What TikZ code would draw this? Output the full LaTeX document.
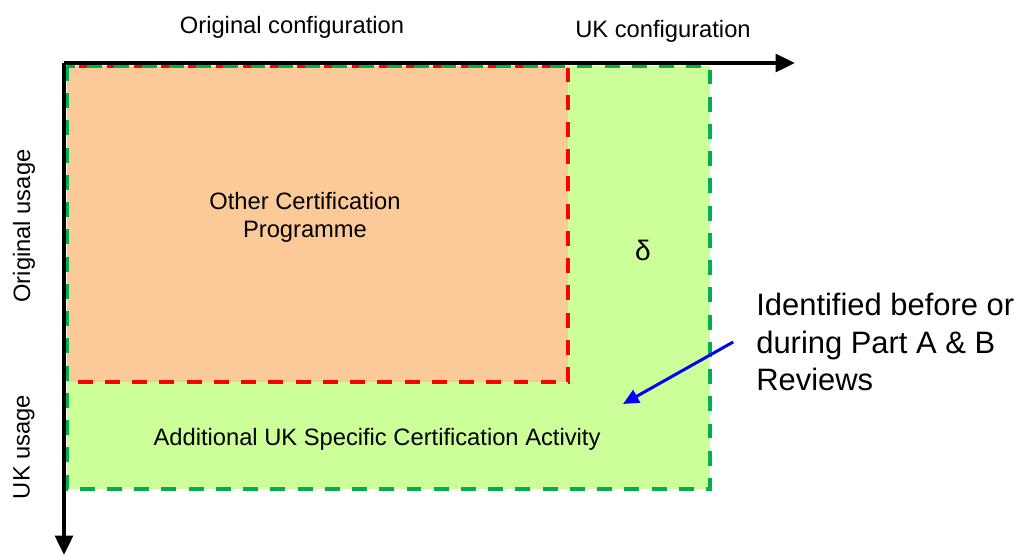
\documentclass[tikz,border=0pt]{standalone}
\usepackage{fontspec}
\setmainfont{Liberation Sans}
\usepackage{tikz}
\usetikzlibrary{arrows.meta, positioning}
\definecolor{ukgreen}{RGB}{204, 255, 153}
\definecolor{peach}{RGB}{252, 202, 152}
\definecolor{dashgreen}{RGB}{0, 176, 80}

\begin{document}
\begin{tikzpicture}[
    x=0.02cm, y=-0.02cm,
    every node/.style = {inner sep=0pt},
    label/.style  = {font=\fontsize{13.5}{16}\selectfont},
    axis/.style   = {line width=2.2pt, -{Triangle[length=11pt, width=10pt]}},
    region/.style = {line width=2pt, dash pattern=on 8.5pt off 7pt},
    pointer/.style= {line width=1.7pt, blue, -{Triangle[length=9pt, width=8pt]}},
]
\useasboundingbox (0,0) rectangle (1018,556);

% --- Bereiche ---
\coordinate (origin) at (64,63);
\fill[ukgreen] (67,66) rectangle (710,489);
\draw[region, red, fill=peach] (67,66) rectangle (568,382);
\draw[region, dashgreen] (67,66) rectangle (710,489);

% --- Achsen ---
\coordinate (xend) at (795,63);
\coordinate (yend) at (64,555);
\draw[axis] (origin) -- (xend);
\draw[axis] (origin) -- (yend);

% --- Beschriftungen ---
\node[label] (origconf) at (292,27) {Original configuration};
\node[label] (ukconf)   at (663,31) {UK configuration};
\node[label, rotate=90] (origuse) at (24,226) {Original usage};
\node[label, rotate=90] (ukuse)   at (24,447) {UK usage};
\node[label, align=center] (other) at (305,217)
    {Other Certification\\Programme};
\node[font=\fontsize{16}{18}\selectfont] (delta) at (643,250) {δ};
\node[label] (additional) at (377,439)
    {Additional UK Specific Certification Activity};
\node[align=left, anchor=west, font=\fontsize{17.6}{21.5}\selectfont]
    (note) at (756,342)
    {Identified before or\\during Part A \& B\\Reviews};

% --- Pfeil ---
\coordinate (tip) at (623,404);
\draw[pointer] ([xshift=-13]note.west) -- (tip);

\end{tikzpicture}
\end{document}
